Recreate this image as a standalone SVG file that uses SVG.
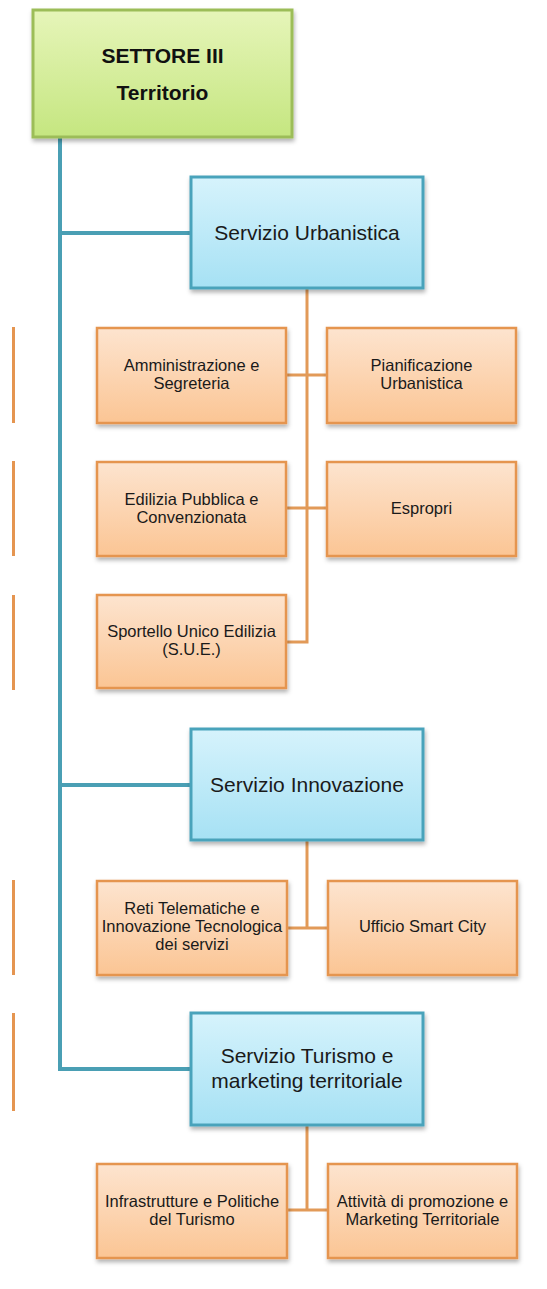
<svg xmlns="http://www.w3.org/2000/svg" width="547" height="1289" viewBox="0 0 547 1289">
<defs>
<linearGradient id="gGreen" x1="0" y1="0" x2="0" y2="1"><stop offset="0" stop-color="#e6f5b9"/><stop offset="1" stop-color="#c5e680"/></linearGradient>
<linearGradient id="gBlue" x1="0" y1="0" x2="0" y2="1"><stop offset="0" stop-color="#d6f3fc"/><stop offset="1" stop-color="#a6e1f4"/></linearGradient>
<linearGradient id="gOrange" x1="0" y1="0" x2="0" y2="1"><stop offset="0" stop-color="#fde4cf"/><stop offset="1" stop-color="#fbc594"/></linearGradient>
<filter id="sh" x="-10%" y="-10%" width="125%" height="130%"><feDropShadow dx="1" dy="3" stdDeviation="2" flood-color="#000" flood-opacity="0.3"/></filter>
<style>
.green{fill:url(#gGreen);stroke:#9cbd58;stroke-width:3;filter:url(#sh)}
.blue{fill:url(#gBlue);stroke:#4aa3bb;stroke-width:3;filter:url(#sh)}
.orange{fill:url(#gOrange);stroke:#e59550;stroke-width:2.5;filter:url(#sh)}
.strip{fill:#e59550}
.title{font-family:"Liberation Sans",Arial,sans-serif;font-weight:bold;font-size:21px;fill:#111;text-anchor:middle}
.svc{font-family:"Liberation Sans",Arial,sans-serif;font-size:21px;fill:#1a1a1a;text-anchor:middle}
.off{font-family:"Liberation Sans",Arial,sans-serif;font-size:16.5px;fill:#1a1a1a;text-anchor:middle}
.teal{stroke:#4a9fb4;stroke-width:4;fill:none}
.org{stroke:#e29a58;stroke-width:3;fill:none}
</style>
</defs>
<rect width="547" height="1289" fill="#ffffff"/>

<g id="strips">
<rect class="strip" x="12" y="327" width="3" height="96"/>
<rect class="strip" x="12" y="461" width="3" height="95"/>
<rect class="strip" x="12" y="595" width="3" height="95"/>
<rect class="strip" x="12" y="880" width="3" height="95"/>
<rect class="strip" x="12" y="1013" width="3" height="98"/>
</g>

<g id="connectors">
<path class="teal" d="M60 137 V1069 H191"/>
<path class="teal" d="M60 233 H191"/>
<path class="teal" d="M60 785 H191"/>
<path class="org" d="M307 288 V642 H286"/>
<path class="org" d="M286 375 H327"/>
<path class="org" d="M286 508 H327"/>
<path class="org" d="M307 840 V928"/>
<path class="org" d="M287 928 H328"/>
<path class="org" d="M307 1125 V1210"/>
<path class="org" d="M287 1210 H328"/>
</g>

<g id="settore">
<rect class="green" x="33" y="10" width="259" height="127"/>
<text class="title" x="162.5" y="63">SETTORE III</text>
<text class="title" x="162.5" y="100">Territorio</text>
</g>

<g id="urbanistica">
<rect class="blue" x="191" y="177" width="232" height="111"/>
<text class="svc" x="307" y="240">Servizio Urbanistica</text>
</g>

<g id="amministrazione">
<rect class="orange" x="97" y="328" width="189" height="95"/>
<text class="off" x="191.5" y="371">Amministrazione e</text>
<text class="off" x="191.5" y="389">Segreteria</text>
</g>

<g id="pianificazione">
<rect class="orange" x="327" y="328" width="189" height="95"/>
<text class="off" x="421.5" y="371">Pianificazione</text>
<text class="off" x="421.5" y="389">Urbanistica</text>
</g>

<g id="edilizia">
<rect class="orange" x="97" y="462" width="189" height="94"/>
<text class="off" x="191.5" y="505">Edilizia Pubblica e</text>
<text class="off" x="191.5" y="523">Convenzionata</text>
</g>

<g id="espropri">
<rect class="orange" x="327" y="462" width="189" height="94"/>
<text class="off" x="421.5" y="514">Espropri</text>
</g>

<g id="sportello">
<rect class="orange" x="97" y="595" width="189" height="93"/>
<text class="off" x="191.5" y="637">Sportello Unico Edilizia</text>
<text class="off" x="191.5" y="655">(S.U.E.)</text>
</g>

<g id="innovazione">
<rect class="blue" x="191" y="729" width="232" height="111"/>
<text class="svc" x="307" y="792">Servizio Innovazione</text>
</g>

<g id="reti">
<rect class="orange" x="97" y="881" width="190" height="94"/>
<text class="off" x="192" y="914">Reti Telematiche e</text>
<text class="off" x="192" y="932">Innovazione Tecnologica</text>
<text class="off" x="192" y="950">dei servizi</text>
</g>

<g id="smartcity">
<rect class="orange" x="328" y="881" width="189" height="94"/>
<text class="off" x="422.5" y="932">Ufficio Smart City</text>
</g>

<g id="turismo">
<rect class="blue" x="191" y="1013" width="232" height="112"/>
<text class="svc" x="307" y="1063">Servizio Turismo e</text>
<text class="svc" x="307" y="1088">marketing territoriale</text>
</g>

<g id="infrastrutture">
<rect class="orange" x="97" y="1164" width="190" height="94"/>
<text class="off" x="192" y="1207">Infrastrutture e Politiche</text>
<text class="off" x="192" y="1225">del Turismo</text>
</g>

<g id="attivita">
<rect class="orange" x="328" y="1164" width="189" height="94"/>
<text class="off" x="422.5" y="1207">Attività di promozione e</text>
<text class="off" x="422.5" y="1225">Marketing Territoriale</text>
</g>
</svg>
